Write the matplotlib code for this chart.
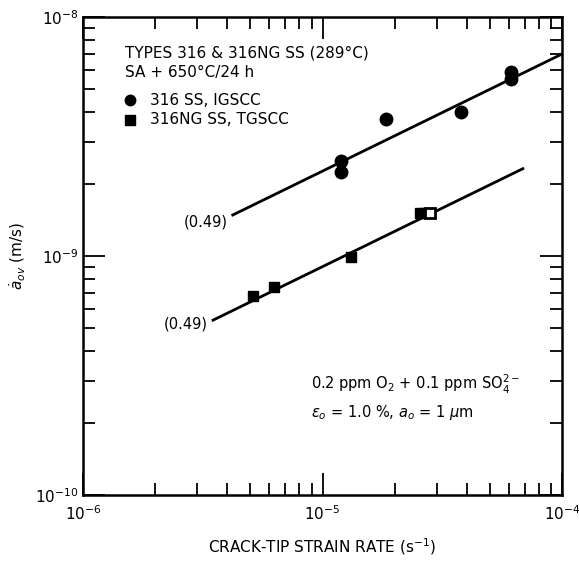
import matplotlib
matplotlib.use("Agg")
import matplotlib.pyplot as plt
import numpy as np

# data (strain rate in 1/s, crack growth rate in m/s)
ss316_rate = [1.20e-5, 1.20e-5, 1.84e-5, 3.78e-5, 6.1e-5, 6.1e-5]
ss316_cgr = [2.50e-9, 2.25e-9, 3.74e-9, 4.02e-9, 5.89e-9, 5.49e-9]

ng316_rate = [5.11e-6, 6.27e-6, 1.31e-5, 2.55e-5, 2.68e-5]
ng316_cgr = [6.82e-10, 7.44e-10, 9.88e-10, 1.52e-9, 1.52e-9]
ng316_open_rate = [2.81e-5]
ng316_open_cgr = [1.52e-9]

# fitted lines, slope 0.49
fit_slope = 0.49
upper_x = [4.22e-6, 1.0e-4]
upper_y0 = 1.485e-9
lower_x = [3.49e-6, 6.86e-5]
lower_y0 = 5.39e-10

plt.rcParams['font.family'] = ['DejaVu Sans']

fig = plt.figure(figsize=(5.79, 5.62), dpi=100)
ax = fig.add_axes([0.1434, 0.1192, 0.8273, 0.8505])
ax.set_xscale('log')
ax.set_yscale('log')
ax.set_xlim(1e-6, 1e-4)
ax.set_ylim(1e-10, 1e-8)

def fit_line(xs, y0):
    xs = np.array(xs)
    return xs, y0 * (xs / xs[0]) ** fit_slope

ux, uy = fit_line(upper_x, upper_y0)
lx, ly = fit_line(lower_x, lower_y0)
ax.plot(ux, uy, 'k-', lw=2)
ax.plot(lx, ly, 'k-', lw=2)

ax.plot(ss316_rate, ss316_cgr, 'ko', ms=9)
ax.plot(ng316_rate, ng316_cgr, 'ks', ms=7.5)
ax.plot(ng316_open_rate, ng316_open_cgr, 's', ms=7, mfc='white', mec='black', mew=2)

ax.text(4.03e-6, 1.387e-9, '(0.49)', ha='right', va='center', fontsize=10.5)
ax.text(3.33e-6, 5.19e-10, '(0.49)', ha='right', va='center', fontsize=10.5)

# annotation block top-left
ax.text(0.088, 0.925, 'TYPES 316 & 316NG SS (289°C)', transform=ax.transAxes, fontsize=11, va='center')
ax.text(0.088, 0.883, 'SA + 650°C/24 h', transform=ax.transAxes, fontsize=11, va='center')
ax.plot([0.098], [0.826], 'ko', ms=7.5, transform=ax.transAxes)
ax.plot([0.098], [0.785], 'ks', ms=7, transform=ax.transAxes)
ax.text(0.140, 0.826, '316 SS, IGSCC', transform=ax.transAxes, fontsize=11, va='center')
ax.text(0.140, 0.785, '316NG SS, TGSCC', transform=ax.transAxes, fontsize=11, va='center')

ax.text(0.475, 0.232, r'0.2 ppm O$_2$ + 0.1 ppm SO$_4^{2-}$', transform=ax.transAxes, fontsize=10.5, va='center')
ax.text(0.475, 0.172, r'$\epsilon_o$ = 1.0 %, $a_o$ = 1 $\mu$m', transform=ax.transAxes, fontsize=10.5, va='center')

ax.set_xlabel('CRACK-TIP STRAIN RATE (s$^{-1}$)', fontsize=11, labelpad=9)
ax.set_ylabel(r'$\dot{a}_{ov}$ (m/s)', fontsize=11, labelpad=5)

ax.tick_params(which='both', direction='in', top=True, right=True, labelsize=11, width=1.3)
ax.tick_params(which='major', length=16)
ax.tick_params(axis='x', which='major', pad=7)
ax.tick_params(axis='y', which='major', pad=3)
ax.tick_params(which='minor', length=8.5)
ax.yaxis.set_minor_formatter(matplotlib.ticker.NullFormatter())
ax.xaxis.set_minor_formatter(matplotlib.ticker.NullFormatter())
for s in ax.spines.values():
    s.set_linewidth(1.8)

fig.savefig('out.png', dpi=100)
